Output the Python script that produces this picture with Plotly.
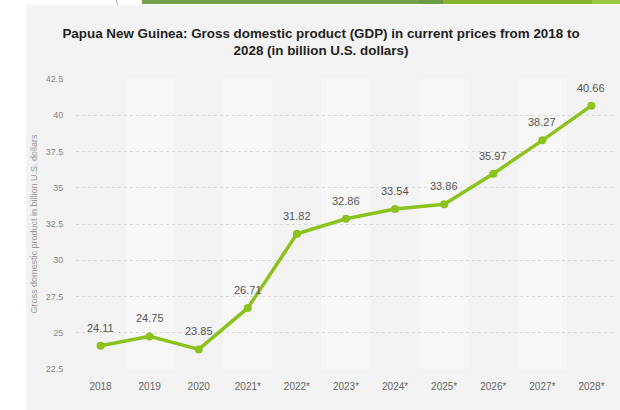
import plotly.graph_objects as go

years = ["2018", "2019", "2020", "2021*", "2022*", "2023*", "2024*", "2025*", "2026*", "2027*", "2028*"]
gdp = [24.11, 24.75, 23.85, 26.71, 31.82, 32.86, 33.54, 33.86, 35.97, 38.27, 40.66]
y_ticks = [22.5, 25, 27.5, 30, 32.5, 35, 37.5, 40, 42.5]

W, H = 620, 410
L, R, T, B = 76, 4, 79, 41
pw, ph = W - L - R, H - T - B

def px_x(x):
    return (x - L) / pw

def px_y(y):
    return (H - B - y) / ph

line_color = "#8cc21c"
card = "#f3f3f3"
band = "#f7f7f7"

fig = go.Figure()
fig.add_trace(go.Scatter(
    x=list(range(len(years))), y=gdp, mode="lines+markers",
    line=dict(color=line_color, width=3.5),
    marker=dict(color=line_color, size=8),
    hoverinfo="skip", showlegend=False,
))

shapes = []
shapes.append(dict(type="rect", xref="paper", yref="paper", x0=px_x(0), x1=px_x(26), y0=px_y(H), y1=px_y(0),
                   fillcolor="white", line_width=0, layer="below"))
shapes.append(dict(type="rect", xref="paper", yref="paper", x0=px_x(0), x1=px_x(W), y0=px_y(5), y1=px_y(0),
                   fillcolor="white", line_width=0, layer="below"))
for x0, x1, c in [(142, 419, "#74a04c"), (419, 443, "#6a9b42"), (443, 592, "#86b22e"), (592, 620, "#9bc840")]:
    shapes.append(dict(type="rect", xref="paper", yref="paper", x0=px_x(x0), x1=px_x(x1), y0=px_y(4), y1=px_y(0),
                       fillcolor=c, line_width=0, layer="below"))
shapes.append(dict(type="line", xref="paper", yref="paper", x0=px_x(116), x1=px_x(118), y0=px_y(0), y1=px_y(5),
                   line=dict(color="#b0b0b0", width=1), layer="below"))
for i in range(1, len(years), 2):
    shapes.append(dict(type="rect", xref="x", yref="y", x0=i - 0.5, x1=i + 0.5, y0=y_ticks[0], y1=y_ticks[-1],
                       fillcolor=band, line_width=0, layer="below"))

annotations = []
for i, v in enumerate(gdp):
    annotations.append(dict(x=i, y=v, xref="x", yref="y", text=f"{v:.2f}", showarrow=False, yshift=18,
                            font=dict(family="Liberation Sans, Arial, sans-serif", size=11, color="#555555")))

fig.update_layout(
    width=W, height=H,
    margin=dict(l=L, r=R, t=T, b=B),
    paper_bgcolor=card, plot_bgcolor=card,
    shapes=shapes, annotations=annotations,
    title=dict(
        text="<b>Papua New Guinea: Gross domestic product (GDP) in current prices from 2018 to<br>2028 (in billion U.S. dollars)</b>",
        x=px_x(321), xref="paper", xanchor="center",
        y=1 - 38 / H, yanchor="middle",
        font=dict(family="Liberation Sans, Arial, sans-serif", size=13.4, color="#222222"),
    ),
    xaxis=dict(
        range=[-0.5, len(years) - 0.5],
        tickmode="array", tickvals=list(range(len(years))), ticktext=years,
        showgrid=False, zeroline=False, showline=False,
        ticks="outside", ticklen=8, tickcolor="rgba(0,0,0,0)",
        tickfont=dict(family="Liberation Sans, Arial, sans-serif", size=10, color="#666666"),
    ),
    yaxis=dict(
        range=[y_ticks[0], y_ticks[-1]], tickvals=y_ticks,
        showgrid=True, gridcolor="#dadada", griddash="dot", gridwidth=1,
        zeroline=False, showline=False,
        ticks="outside", ticklen=10, tickcolor="rgba(0,0,0,0)",
        tickfont=dict(family="Liberation Sans, Arial, sans-serif", size=9, color="#888888"),
        title=dict(text="Gross domestic product in billion U.S. dollars", standoff=6,
                   font=dict(family="Liberation Sans, Arial, sans-serif", size=9, color="#999999")),
    ),
)

fig.write_html("out.html")
